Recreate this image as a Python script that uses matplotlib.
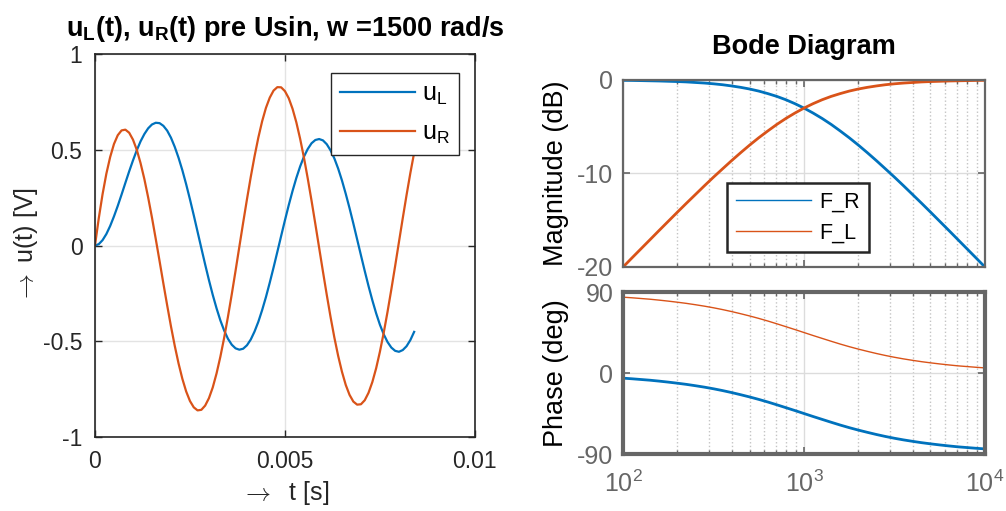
import matplotlib
matplotlib.use("Agg")
import matplotlib.pyplot as plt
from matplotlib.lines import Line2D
from matplotlib.ticker import NullFormatter, LogLocator

plt.rcParams["font.family"] = ["Liberation Sans", "DejaVu Sans"]
plt.rcParams["axes.unicode_minus"] = False
plt.rcParams["mathtext.fontset"] = "custom"
plt.rcParams["mathtext.rm"] = "Liberation Sans"
plt.rcParams["mathtext.it"] = "Liberation Sans:italic"
plt.rcParams["mathtext.bf"] = "Liberation Sans:bold"

BLUE = "#0072BD"
ORANGE = "#D95319"
DARK = "#262626"
GRAY = "#666666"

# time response, t in s (step 0.1 ms)
t = [i * 0.0001 for i in range(85)]
u_L = [
    0.000, 0.007, 0.028, 0.060, 0.102, 0.152, 0.207, 0.266, 0.327, 0.387,
    0.444, 0.497, 0.544, 0.582, 0.612, 0.632, 0.641, 0.639, 0.625, 0.600,
    0.563, 0.515, 0.458, 0.393, 0.320, 0.241, 0.158, 0.072, -0.014, -0.099,
    -0.181, -0.258, -0.328, -0.391, -0.444, -0.487, -0.518, -0.537, -0.544, -0.539,
    -0.521, -0.491, -0.449, -0.398, -0.337, -0.269, -0.194, -0.115, -0.033, 0.050,
    0.132, 0.211, 0.285, 0.353, 0.413, 0.464, 0.504, 0.534, 0.551, 0.556,
    0.549, 0.529, 0.497, 0.455, 0.402, 0.340, 0.270, 0.195, 0.115, 0.032,
    -0.051, -0.133, -0.212, -0.286, -0.354, -0.414, -0.464, -0.504, -0.533, -0.550,
    -0.555, -0.546, -0.526, -0.494, -0.451,
]
u_R = [
    0.000, 0.142, 0.268, 0.375, 0.462, 0.530, 0.576, 0.601, 0.605, 0.589,
    0.553, 0.500, 0.430, 0.347, 0.251, 0.146, 0.034, -0.081, -0.198, -0.312,
    -0.422, -0.524, -0.616, -0.696, -0.762, -0.812, -0.845, -0.861, -0.858, -0.836,
    -0.797, -0.741, -0.668, -0.581, -0.482, -0.372, -0.255, -0.132, -0.006, 0.119,
    0.241, 0.358, 0.466, 0.564, 0.649, 0.719, 0.772, 0.809, 0.827, 0.826,
    0.806, 0.769, 0.714, 0.643, 0.557, 0.459, 0.350, 0.234, 0.112, -0.012,
    -0.136, -0.257, -0.373, -0.480, -0.576, -0.659, -0.728, -0.780, -0.815, -0.831,
    -0.829, -0.808, -0.769, -0.713, -0.641, -0.554, -0.455, -0.346, -0.229, -0.107,
    0.018, 0.142, 0.263, 0.378, 0.484,
]

# bode data, w in rad/s
w = [
    100, 112.2, 125.9, 141.3, 158.5, 177.8, 199.5, 223.9, 251.2, 281.8,
    316.2, 354.8, 398.1, 446.7, 501.2, 562.3, 631.0, 707.9, 794.3, 891.3,
    1000, 1122, 1259, 1413, 1585, 1778, 1995, 2239, 2512, 2818,
    3162, 3548, 3981, 4467, 5012, 5623, 6310, 7079, 7943, 8913, 10000,
]
mag_R = [
    -0.04, -0.05, -0.07, -0.09, -0.11, -0.14, -0.17, -0.21, -0.27, -0.33,
    -0.41, -0.51, -0.64, -0.79, -0.97, -1.19, -1.46, -1.76, -2.12, -2.54,
    -3.01, -3.54, -4.12, -4.76, -5.46, -6.19, -6.97, -7.79, -8.64, -9.52,
    -10.41, -11.33, -12.27, -13.21, -14.17, -15.14, -16.11, -17.09, -18.07, -19.05,
    -20.04,
]
mag_L = [
    -20.04, -19.05, -18.07, -17.09, -16.11, -15.14, -14.17, -13.21, -12.27, -11.33,
    -10.41, -9.52, -8.64, -7.79, -6.97, -6.19, -5.46, -4.76, -4.12, -3.54,
    -3.01, -2.54, -2.12, -1.76, -1.46, -1.19, -0.97, -0.79, -0.64, -0.51,
    -0.41, -0.33, -0.27, -0.21, -0.17, -0.14, -0.11, -0.09, -0.07, -0.05,
    -0.04,
]
ph_R = [
    -5.7, -6.4, -7.2, -8.0, -9.0, -10.1, -11.3, -12.6, -14.1, -15.7,
    -17.5, -19.5, -21.7, -24.1, -26.6, -29.3, -32.2, -35.3, -38.5, -41.7,
    -45.0, -48.3, -51.5, -54.7, -57.8, -60.7, -63.4, -65.9, -68.3, -70.5,
    -72.5, -74.3, -75.9, -77.4, -78.7, -79.9, -81.0, -82.0, -82.8, -83.6,
    -84.3,
]
ph_L = [
    84.3, 83.6, 82.8, 82.0, 81.0, 79.9, 78.7, 77.4, 75.9, 74.3,
    72.5, 70.5, 68.3, 65.9, 63.4, 60.7, 57.8, 54.7, 51.5, 48.3,
    45.0, 41.7, 38.5, 35.3, 32.2, 29.3, 26.6, 24.1, 21.7, 19.5,
    17.5, 15.7, 14.1, 12.6, 11.3, 10.1, 9.0, 8.0, 7.2, 6.4,
    5.7,
]

t_ticks = [0, 0.005, 0.01]
t_labels = ["0", "0.005", "0.01"]
u_ticks = [-1, -0.5, 0, 0.5, 1]
u_labels = ["-1", "-0.5", "0", "0.5", "1"]

fig = plt.figure(figsize=(10.06, 5.11), dpi=100)

# ---- left: time response
ax = fig.add_axes([0.0944, 0.1448, 0.3777, 0.7495])
ax.plot(t, u_L, color=BLUE, lw=1.6, label=r"$\mathregular{u_L}$")
ax.plot(t, u_R, color=ORANGE, lw=1.6, label=r"$\mathregular{u_R}$")
ax.set_xlim(0, 0.01)
ax.set_ylim(-1, 1)
ax.set_xticks(t_ticks)
ax.set_xticklabels(t_labels)
ax.set_yticks(u_ticks)
ax.set_yticklabels(u_labels)
ax.set_axisbelow(True)
ax.grid(True, color="#e3e3e3", lw=1)
ax.tick_params(direction="in", top=True, right=True, length=5, width=1,
               colors=DARK, labelsize=16.5, pad=9)
for s in ax.spines.values():
    s.set_color(DARK)
    s.set_linewidth(1.2)
ax.set_xlabel(r"$\rightarrow$  t [s]", fontsize=18, color=DARK, labelpad=5,
              math_fontfamily="cm")
ax.set_ylabel(r"$\rightarrow$ u(t) [V]", fontsize=18, color=DARK,
              math_fontfamily="cm")
ax.yaxis.set_label_coords(-0.145, 0.5)
leg = ax.legend(loc="upper right", bbox_to_anchor=(0.958, 0.950), borderaxespad=0,
                fontsize=18, handlelength=3.0, labelspacing=0.55, borderpad=0.35,
                handletextpad=0.3, fancybox=False, framealpha=1)
leg.get_frame().set_edgecolor(DARK)
leg.get_frame().set_linewidth(1.0)
fig.text(0.2833, 0.930,
         r"$\mathregular{u_L}$(t), $\mathregular{u_R}$(t) pre Usin, w =1500 rad/s",
         ha="center", va="baseline", fontsize=19.5, fontweight="bold")

# ---- right: bode diagram
mag = fig.add_axes([0.6193, 0.4781, 0.3598, 0.3654])
ph = fig.add_axes([0.6193, 0.1115, 0.3598, 0.3170])

mag.plot(w, mag_R, color=BLUE, lw=2)
mag.plot(w, mag_L, color=ORANGE, lw=2)
ph.plot(w, ph_R, color=BLUE, lw=2)
ph.plot(w, ph_L, color=ORANGE, lw=1)

for a in (mag, ph):
    a.set_xscale("log")
    a.set_xlim(100, 1e4)
    a.xaxis.set_major_locator(LogLocator(base=10, numticks=10))
    a.xaxis.set_minor_locator(LogLocator(base=10, subs=range(2, 10), numticks=10))
    a.xaxis.set_minor_formatter(NullFormatter())
    a.set_axisbelow(True)
    a.grid(True, which="major", color="#dcdcdc", lw=1)
    a.xaxis.grid(True, which="minor", color="#c4c4c4", ls=":", lw=1)
    a.tick_params(which="both", direction="in", top=True, right=True,
                  colors=GRAY, labelsize=18, pad=7)
    a.tick_params(which="major", length=5, width=1.2)
    a.tick_params(which="minor", length=3, width=1)

mag.set_ylim(-20, 0)
mag.set_yticks([-20, -10, 0])
mag.tick_params(labelbottom=False)
ph.set_ylim(-90, 90)
ph.set_yticks([-90, 0, 90])
ph.tick_params(axis="x", pad=12)

for s in mag.spines.values():
    s.set_color(GRAY)
    s.set_linewidth(1.6)
for s in ph.spines.values():
    s.set_color(GRAY)
    s.set_linewidth(3)

mag.set_ylabel("Magnitude (dB)", fontsize=19.5, color="black")
mag.yaxis.set_label_coords(-0.15, 0.5)
ph.set_ylabel("Phase (deg)", fontsize=19.5, color="black")
ph.yaxis.set_label_coords(-0.15, 0.5)
mag.set_title("Bode Diagram", fontsize=19.5, fontweight="bold", pad=19)

handles = [Line2D([], [], color=BLUE, lw=1), Line2D([], [], color=ORANGE, lw=1)]
leg2 = mag.legend(handles, ["F_R", "F_L"], loc="upper left",
                  bbox_to_anchor=(0.287, 0.448), borderaxespad=0, fontsize=15.5,
                  handlelength=3.5, labelspacing=0.45, borderpad=0.4,
                  handletextpad=0.4, fancybox=False, framealpha=1)
leg2.get_frame().set_edgecolor(DARK)
leg2.get_frame().set_linewidth(1.8)

fig.savefig("out.png", dpi=100)
